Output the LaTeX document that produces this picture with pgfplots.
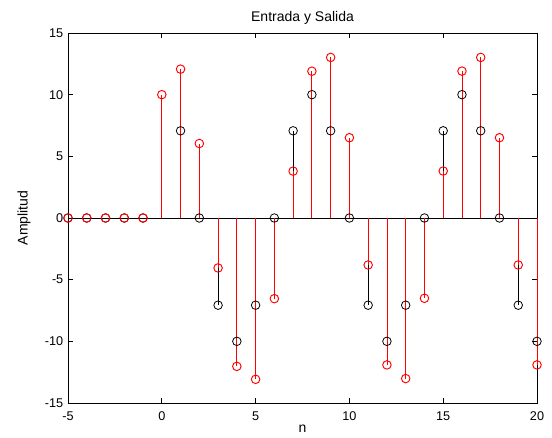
\documentclass[border=0pt]{standalone}
\usepackage{fontspec}
\setmainfont{Liberation Sans}
\usepackage{pgfplots}
\pgfplotsset{compat=1.18}
\begin{document}
\begin{tikzpicture}
\useasboundingbox (-51pt,-26.25pt) rectangle (363pt,302.25pt);
\begin{axis}[
  scale only axis,
  width=351.75pt, height=277.5pt,
  xmin=-5, xmax=20, ymin=-15, ymax=15,
  xtick={-5,0,5,10,15,20},
  ytick={-15,-10,-5,0,5,10,15},
  tick align=inside,
  major tick length=4pt,
  tick style={black, line width=0.6pt},
  axis line style={black, line width=0.6pt},
  /pgf/number format/assume math mode=true,
  ticklabel style={font=\fontsize{9.5}{11}\selectfont},
  xticklabel style={yshift=-3pt},
  title={Entrada y Salida},
  title style={font=\fontsize{10.5}{12}\selectfont, yshift=-3pt},
  xlabel={n},
  ylabel={Amplitud},
  label style={font=\fontsize{10.5}{12}\selectfont},
  xlabel style={yshift=4pt},
  ylabel style={yshift=4pt},
  clip=false,
]
\addplot[black, line width=0.6pt, forget plot] coordinates {(-5,0) (20,0)};
\addplot[ycomb, black, line width=0.6pt, mark=o, mark size=3.2pt, mark options={solid, line width=0.6pt}] coordinates {
(-5,0) (-4,0) (-3,0) (-2,0) (-1,0)
(1,7.07) (2,0) (3,-7.07) (4,-10) (5,-7.07) (6,0) (7,7.07) (8,10) (9,7.07)
(10,0) (11,-7.07) (12,-10) (13,-7.07) (14,0) (15,7.07) (16,10) (17,7.07) (18,0) (19,-7.07) (20,-10)
};
\addplot[ycomb, red, line width=0.6pt, mark=o, mark size=3.2pt, mark options={solid, line width=0.7pt}] coordinates {
(-5,0) (-4,0) (-3,0) (-2,0) (-1,0)
(0,10) (1,12.07) (2,6.04) (3,-4.05) (4,-12.03) (5,-13.08) (6,-6.54) (7,3.80) (8,11.90) (9,13.02)
(10,6.51) (11,-3.81) (12,-11.91) (13,-13.02) (14,-6.51) (15,3.81) (16,11.91) (17,13.02) (18,6.51) (19,-3.81) (20,-11.91)
};
\end{axis}
\end{tikzpicture}
\end{document}
